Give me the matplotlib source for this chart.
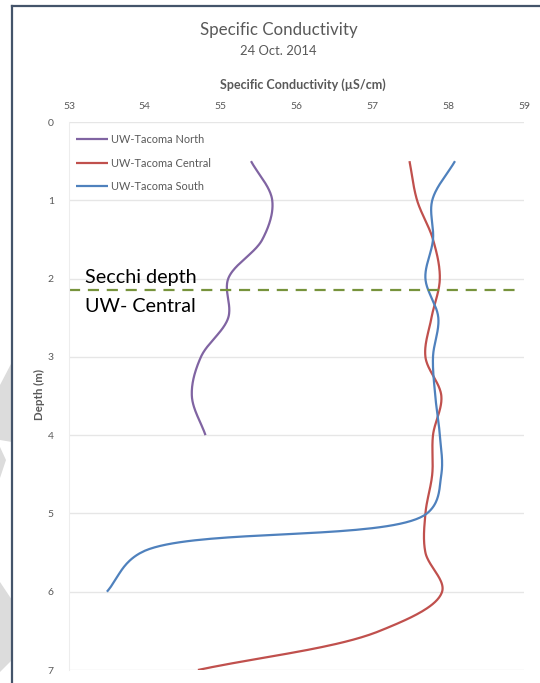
import numpy as np
import matplotlib.pyplot as plt
from matplotlib.patches import Polygon
from matplotlib.lines import Line2D

# ------------------------------------------------------------------
# data
# ------------------------------------------------------------------
north_depth = [0.5, 1.0, 1.5, 2.0, 2.5, 3.0, 3.5, 4.0]
north_cond = [55.40, 55.68, 55.55, 55.10, 55.10, 54.74, 54.62, 54.80]

central_depth = [0.5, 1.0, 1.5, 2.0, 2.5, 3.0, 3.5, 4.0, 4.5, 5.0, 5.5, 6.0, 6.5, 7.0]
central_cond = [57.49, 57.59, 57.80, 57.89, 57.78, 57.70, 57.91, 57.80, 57.79, 57.70, 57.70, 57.92, 57.10, 54.70]

south_depth = [0.5, 1.0, 1.5, 2.0, 2.5, 3.0, 3.5, 4.0, 4.5, 5.0, 5.5, 6.0]
south_cond = [58.09, 57.79, 57.80, 57.70, 57.87, 57.80, 57.83, 57.89, 57.91, 57.72, 53.95, 53.50]

secchi_depth = 2.15
x_ticks = [53, 54, 55, 56, 57, 58, 59]
y_ticks = [0, 1, 2, 3, 4, 5, 6, 7]

W, H = 540, 683
GREY = '#595959'
plt.rcParams['font.family'] = ['Lato', 'DejaVu Sans']

# plot area in pixels (left, top, right, bottom)
PL, PT, PR, PB = 69, 122, 524, 670
XSCALE = (PR - PL) / (x_ticks[-1] - x_ticks[0])
YSCALE = (PB - PT) / (y_ticks[-1] - y_ticks[0])


def smooth(xs, ys, n=40):
    """Excel-like smoothed line: centripetal Catmull-Rom through the points,
    computed in screen-proportional space."""
    p = np.column_stack([np.asarray(xs) * XSCALE, np.asarray(ys) * YSCALE]).astype(float)
    p = np.vstack([2 * p[0] - p[1], p, 2 * p[-1] - p[-2]])
    out = []
    for i in range(1, len(p) - 2):
        p0, p1, p2, p3 = p[i - 1], p[i], p[i + 1], p[i + 2]
        t0 = 0.0
        t1 = t0 + np.linalg.norm(p1 - p0) ** 0.5
        t2 = t1 + np.linalg.norm(p2 - p1) ** 0.5
        t3 = t2 + np.linalg.norm(p3 - p2) ** 0.5
        t = np.linspace(t1, t2, n)[:, None]
        a1 = (t1 - t) / (t1 - t0) * p0 + (t - t0) / (t1 - t0) * p1
        a2 = (t2 - t) / (t2 - t1) * p1 + (t - t1) / (t2 - t1) * p2
        a3 = (t3 - t) / (t3 - t2) * p2 + (t - t2) / (t3 - t2) * p3
        b1 = (t2 - t) / (t2 - t0) * a1 + (t - t0) / (t2 - t0) * a2
        b2 = (t3 - t) / (t3 - t1) * a2 + (t - t1) / (t3 - t1) * a3
        out.append((t2 - t) / (t2 - t1) * b1 + (t - t1) / (t2 - t1) * b2)
    out = np.vstack(out)
    return out[:, 0] / XSCALE, out[:, 1] / YSCALE


def px(x, y):
    """pixel (from top-left) -> figure fraction"""
    return x / W, 1 - y / H


fig = plt.figure(figsize=(W / 100, H / 100), dpi=100)

# watermark shapes left of the frame
for pts in [[(0, 385), (12, 362), (12, 442), (0, 440)],
            [(0, 447), (6, 460), (0, 478)],
            [(0, 582), (12, 600), (12, 660), (0, 672)]]:
    fig.patches.append(Polygon([px(*q) for q in pts], closed=True, transform=fig.transFigure,
                               facecolor='#DCDCDC', edgecolor='none'))

# chart frame
fig.lines.append(Line2D([12 / W, 12 / W], [0, 1 - 6 / H], transform=fig.transFigure,
                        color='#44546A', lw=1.6))
fig.lines.append(Line2D([12 / W, 1], [1 - 6 / H, 1 - 6 / H], transform=fig.transFigure,
                        color='#44546A', lw=1.6))

l, b = px(PL, PB)
r, t = px(PR, PT)
ax = fig.add_axes([l, b, r - l, t - b])

for xs, ys, c, lab in [(north_cond, north_depth, '#8064A2', 'UW-Tacoma North'),
                       (central_cond, central_depth, '#C0504D', 'UW-Tacoma Central'),
                       (south_cond, south_depth, '#4F81BD', 'UW-Tacoma South')]:
    sx, sy = smooth(xs, ys)
    ax.plot(sx, sy, color=c, lw=1.6, label=lab, solid_capstyle='butt')

ax.axhline(secchi_depth, color='#77933C', lw=1.6, dashes=(5, 3.5), xmin=0, xmax=0.99)

ax.set_xlim(x_ticks[0], x_ticks[-1])
ax.set_ylim(y_ticks[-1], y_ticks[0])
ax.set_xticks(x_ticks)
ax.set_yticks(y_ticks)
ax.xaxis.tick_top()
ax.tick_params(axis='both', length=0, labelsize=7.5, labelcolor=GREY)
ax.tick_params(axis='x', pad=8)
ax.tick_params(axis='y', pad=11)
ax.grid(axis='y', color='#E6E6E6', lw=1)
ax.set_axisbelow(True)
for s in ['top', 'right', 'bottom']:
    ax.spines[s].set_visible(False)
ax.spines['left'].set_color('#EDEDED')

fig.text(303 / W, 1 - 85 / H, 'Specific Conductivity (µS/cm)', fontsize=9, fontweight='bold',
         color=GREY, ha='center', va='center')
fig.text(39 / W, 1 - 395 / H, 'Depth (m)', fontsize=8.3, fontweight='bold', color=GREY,
         rotation=90, ha='center', va='center')

ax.legend(loc='upper left', bbox_to_anchor=px(76, 134), bbox_transform=fig.transFigure,
          frameon=False, fontsize=7.9, labelcolor=GREY, handlelength=2.9, handletextpad=0.25,
          labelspacing=1.15, borderpad=0, borderaxespad=0)

fig.text(85 / W, 1 - 277 / H, 'Secchi depth', fontsize=14.2, va='center', color='black')
fig.text(85 / W, 1 - 307 / H, 'UW- Central', fontsize=14.2, va='center', color='black')

fig.text(279 / W, 1 - 30 / H, 'Specific Conductivity', fontsize=12.2, ha='center', va='center', color=GREY)
fig.text(278 / W, 1 - 51 / H, '24 Oct. 2014', fontsize=9.4, ha='center', va='center', color=GREY)

fig.savefig('out.png', dpi=100)
